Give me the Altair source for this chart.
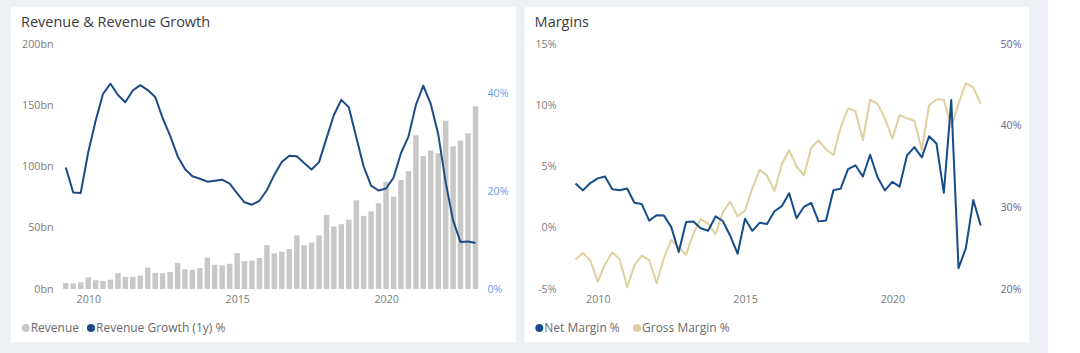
import altair as alt
import pandas as pd

# ---------------- data ----------------
quarter_end = [f"{y}-{md}" for y in range(2009, 2023)
               for md in ("03-31", "06-30", "09-30", "12-31")]

revenue_bn = [
    4.89, 4.65, 5.45, 9.52,
    7.13, 6.57, 7.56, 12.95,
    9.86, 9.91, 10.88, 17.43,
    13.19, 12.83, 13.81, 21.27,
    16.07, 15.70, 17.09, 25.59,
    19.74, 19.34, 20.58, 29.33,
    22.72, 23.19, 25.36, 35.75,
    29.13, 30.40, 32.71, 43.74,
    35.71, 37.96, 43.74, 60.45,
    51.04, 52.89, 56.58, 72.38,
    59.70, 63.40, 69.98, 87.44,
    75.45, 88.91, 96.15, 125.56,
    108.52, 113.08, 110.81, 137.41,
    116.44, 121.23, 127.10, 149.20,
]

revenue_growth_pct = [
    24.8, 19.7, 19.6, 27.9,
    34.3, 39.8, 41.9, 39.6,
    38.1, 40.5, 41.6, 40.6,
    39.2, 34.9, 31.3, 27.1,
    24.5, 23.0, 22.5, 21.9,
    22.1, 22.3, 21.5, 19.5,
    17.7, 17.2, 18.0, 20.2,
    23.3, 25.9, 27.2, 27.1,
    25.7, 24.4, 25.9, 30.8,
    35.5, 38.6, 37.1, 30.9,
    25.0, 21.1, 20.1, 20.5,
    22.7, 27.7, 31.1, 37.6,
    41.5, 37.8, 31.6, 21.7,
    14.0, 9.6, 9.7, 9.4,
]

net_margin_pct = [
    3.62, 3.05, 3.65, 4.03,
    4.19, 3.15, 3.06, 3.21,
    2.04, 1.93, 0.58, 1.02,
    0.99, 0.05, -1.98, 0.46,
    0.51, -0.04, -0.24, 0.93,
    0.55, -0.65, -2.12, 0.73,
    -0.25, 0.40, 0.31, 1.35,
    1.76, 2.82, 0.77, 1.71,
    2.03, 0.52, 0.59, 3.07,
    3.19, 4.79, 5.10, 4.18,
    5.96, 4.14, 3.05, 3.74,
    3.36, 5.90, 6.58, 5.75,
    7.47, 6.88, 2.85, 10.42,
    -3.30, -1.67, 2.26, 0.19,
]

gross_margin_pct = [
    23.6, 24.4, 23.5, 20.9,
    23.0, 24.5, 23.6, 20.2,
    22.9, 24.1, 23.5, 20.7,
    23.8, 26.0, 25.1, 24.2,
    26.8, 28.6, 28.0, 26.7,
    29.4, 30.7, 28.9, 29.6,
    32.3, 34.6, 33.9, 32.0,
    35.3, 37.0, 35.0, 33.9,
    37.3, 38.2, 37.1, 36.4,
    39.8, 42.1, 41.8, 38.2,
    43.2, 42.7, 40.9, 38.4,
    41.3, 40.9, 40.6, 37.0,
    42.5, 43.2, 43.2, 39.8,
    42.7, 45.2, 44.7, 42.7,
]

left_ticks = [0, 50, 100, 150, 200]
growth_ticks = [0, 20, 40]
net_ticks = [-5, 0, 5, 10, 15]
gross_ticks = [20, 30, 40, 50]
year_ticks = [2010, 2015, 2020]

left_legend = ["Revenue", "Revenue Growth (1y) %"]
right_legend = ["Net Margin %", "Gross Margin %"]

# ---------------- styles ----------------
FONT = "Open Sans"
PAGE_BG = "#edf1f5"
BAR_C = "#c8c8c8"
GROWTH_C = "#1d4b85"
NET_C = "#174c8a"
GROSS_C = "#e0cf9f"
AXIS_C = "#7c7c7c"
GROWTH_AX_C = "#6a9be6"
GROSS_AX_C = "#6a6690"
TITLE_C = "#3c3c3c"
LEG_C = "#6a6a6a"
LBL = 10.7

rev_df = pd.DataFrame({"date": quarter_end, "revenue": revenue_bn,
                       "growth": revenue_growth_pct})
mar_df = pd.DataFrame({"date": quarter_end, "net": net_margin_pct,
                       "gross": gross_margin_pct})
one = pd.DataFrame({"k": [0]})


def dt(y, m, d):
    return alt.DateTime(year=y, month=m, date=d, utc=True)


def x_enc(start, end):
    return alt.X(
        "date:T",
        scale=alt.Scale(type="utc", domain=[dt(*start), dt(*end)],
                        nice=False, padding=0),
        axis=alt.Axis(values=[dt(y, 1, 1) for y in year_ticks], format="%Y",
                      title=None, domain=False, ticks=False, grid=False,
                      labelFont=FONT, labelFontSize=LBL, labelColor=AXIS_C,
                      labelPadding=5, zindex=1),
    )


def y_axis(orient, values, expr, color, pad):
    return alt.Axis(orient=orient, values=values, labelExpr=expr, title=None,
                    domain=False, ticks=False, grid=False, labelFont=FONT,
                    labelFontSize=LBL, labelColor=color, labelPadding=pad,
                    zindex=1)


def card(x0, x1, y0, y1):
    return alt.Chart(one).mark_rect(fill="white").encode(
        x=alt.value(x0), x2=alt.value(x1), y=alt.value(y0), y2=alt.value(y1))


def title_text(txt, x):
    return alt.Chart(one).mark_text(
        text=txt, align="left", baseline="alphabetic", font=FONT,
        fontSize=14.5, color=TITLE_C).encode(x=alt.value(x), y=alt.value(-17))


def legend_item(label, color, x, y=284):
    dot = alt.Chart(one).mark_point(filled=True, shape="circle", size=64,
                                    color=color, opacity=1).encode(
        x=alt.value(x), y=alt.value(y))
    txt = alt.Chart(one).mark_text(
        text=label, align="left", baseline="middle", font=FONT, fontSize=12,
        color=LEG_C).encode(x=alt.value(x + 5), y=alt.value(y))
    return [dot, txt]


# ---------------- left panel ----------------
xl = x_enc((2009, 1, 19), (2023, 2, 12))
bars = alt.Chart(rev_df).mark_bar(size=5.5, color=BAR_C).encode(
    x=xl,
    y=alt.Y("revenue:Q", scale=alt.Scale(domain=[0, 200], nice=False),
            axis=y_axis("left", left_ticks, "datum.value + 'bn'", AXIS_C, 7)),
)
growth = alt.Chart(rev_df).mark_line(color=GROWTH_C, strokeWidth=2,
                                     strokeJoin="round").encode(
    x=xl,
    y=alt.Y("growth:Q", scale=alt.Scale(domain=[0, 50], nice=False),
            axis=y_axis("right", growth_ticks, "datum.value + '%'",
                        GROWTH_AX_C, 8)),
)
left = alt.layer(
    card(-49, 456, -36.7, 298.3),
    bars, growth,
    title_text("Revenue & Revenue Growth", -39),
    *legend_item(left_legend[0], BAR_C, -34.3),
    *legend_item(left_legend[1], GROWTH_C, 31),
).resolve_scale(y="independent").properties(width=419, height=245)

# ---------------- right panel ----------------
xr = x_enc((2008, 11, 8), (2023, 5, 20))
net = alt.Chart(mar_df).mark_line(color=NET_C, strokeWidth=2,
                                  strokeJoin="round").encode(
    x=xr,
    y=alt.Y("net:Q", scale=alt.Scale(domain=[-5, 15], nice=False),
            axis=y_axis("left", net_ticks, "datum.value + '%'", AXIS_C, 8)),
)
gross = alt.Chart(mar_df).mark_line(color=GROSS_C, strokeWidth=2,
                                    strokeJoin="round").encode(
    x=xr,
    y=alt.Y("gross:Q", scale=alt.Scale(domain=[20, 50], nice=False),
            axis=y_axis("right", gross_ticks, "datum.value + '%'",
                        GROSS_AX_C, 8)),
)
right = alt.layer(
    card(-39.4, 465, -36.7, 298.3),
    gross, net,
    title_text("Margins", -29.4),
    *legend_item(right_legend[0], NET_C, -24.7),
    *legend_item(right_legend[1], GROSS_C, 73),
).resolve_scale(y="independent").properties(width=428, height=245)

chart = alt.hconcat(left, right, spacing=8).configure(
    background=PAGE_BG,
    padding={"left": 11, "top": 7, "right": 19, "bottom": 11},
).configure_view(stroke=None)

chart.save("out.html", embed_options={"renderer": "svg", "actions": False})
